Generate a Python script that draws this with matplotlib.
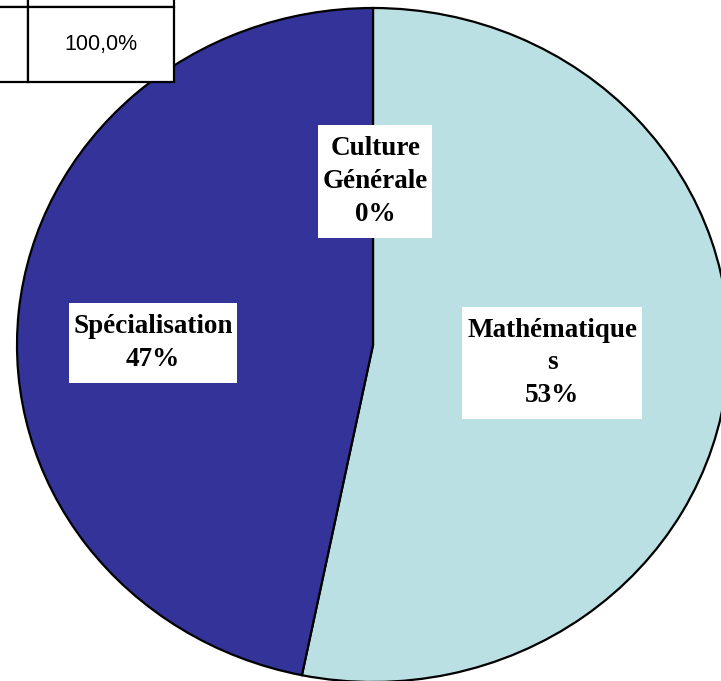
import matplotlib
matplotlib.use("Agg")
import matplotlib.pyplot as plt

# data
categories = ["Culture\nGénérale", "Mathématique\ns", "Spécialisation"]
values = [0.0, 53.2, 46.8]
colors = ["#FFFFFF", "#BBE0E3", "#333399"]
table_text = [["", ""], ["", "100,0%"]]

# where each label box sits (data units, pie radius = 1)
label_pos = [(0.006, 0.485), (0.503, -0.053), (-0.618, 0.006)]

fig = plt.figure(figsize=(7.21, 6.81), dpi=100)
ax = fig.add_axes([0, 0, 1, 1])

ax.pie(values, colors=colors, startangle=90, counterclock=False,
       wedgeprops=dict(edgecolor="black", linewidth=1.6))
ax.set_aspect("auto")
# ellipse: centre at (373,345) px, rx=356, ry=337
ax.set_xlim(-373 / 356, (721 - 373) / 356)
ax.set_ylim(-(681 - 345) / 337, 345 / 337)
ax.axis("off")

total = sum(values)
for name, v, (x, y) in zip(categories, values, label_pos):
    ax.text(x, y, "%s\n%d%%" % (name, round(100 * v / total)),
            ha="center", va="center", family="Liberation Serif",
            fontweight="bold", fontsize=19.5, linespacing=1.4,
            bbox=dict(boxstyle="square,pad=0.17", facecolor="white",
                      edgecolor="none", mutation_aspect=2.4), zorder=5)

# partial table in the upper-left corner
tbl = ax.table(cellText=table_text, cellLoc="center",
               bbox=[-118 / 721, 1 - 82 / 681, 292 / 721, 150 / 681])
tbl.auto_set_font_size(False)
tbl.set_zorder(6)
for (r, c), cell in tbl.get_celld().items():
    cell.set_linewidth(1.6)
    cell.set_edgecolor("black")
    cell.set_facecolor("white")
    cell.get_text().set_fontsize(15.5)
    cell.get_text().set_fontfamily("Liberation Sans")

fig.savefig("out.png", dpi=100)
